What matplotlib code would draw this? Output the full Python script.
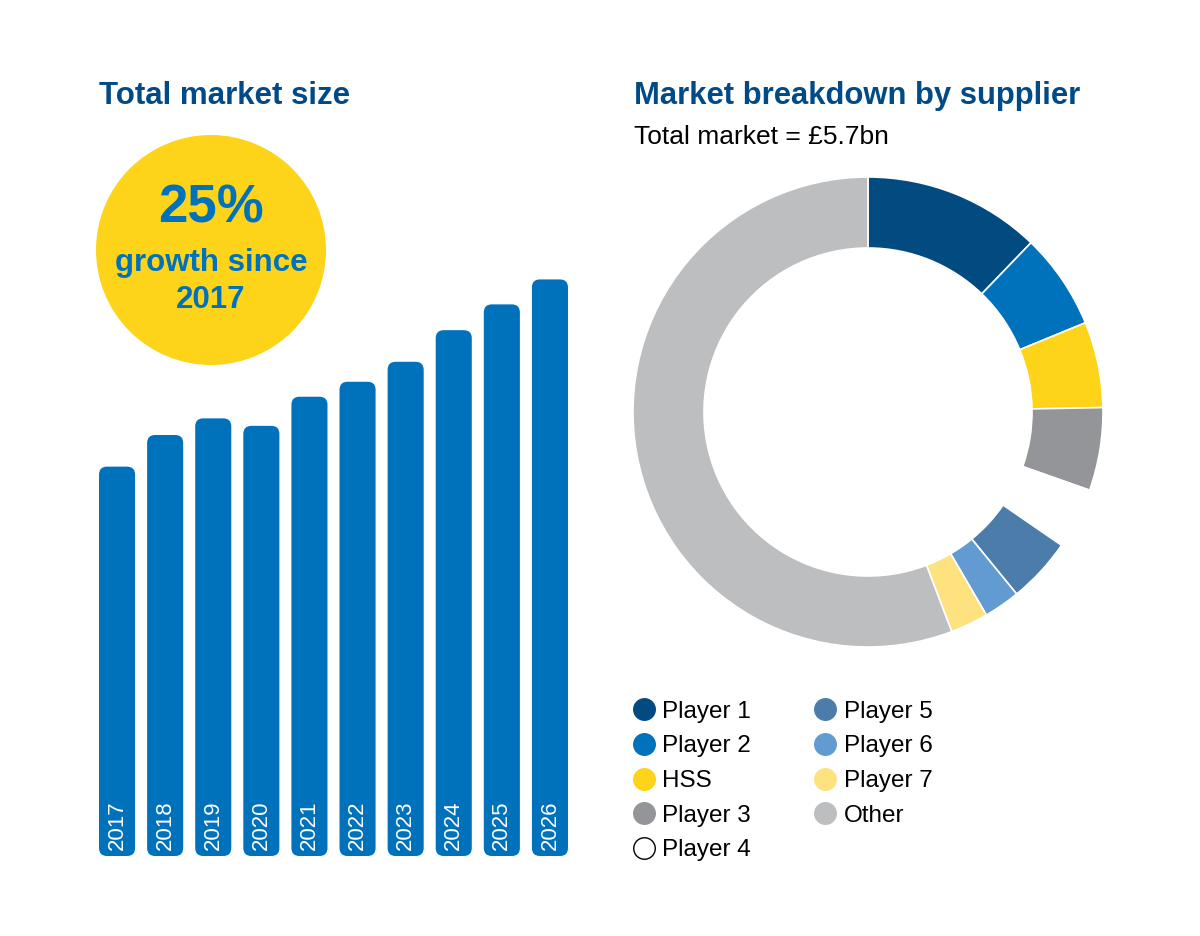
import matplotlib
matplotlib.use("Agg")
import matplotlib.pyplot as plt
from matplotlib.patches import FancyBboxPatch, Circle
from matplotlib.lines import Line2D

plt.rcParams['font.family'] = ['Liberation Sans', 'DejaVu Sans']

# ---- data ----
years = ["2017", "2018", "2019", "2020", "2021", "2022", "2023", "2024", "2025", "2026"]
market_size = [4.68, 5.06, 5.26, 5.17, 5.52, 5.70, 5.94, 6.32, 6.63, 6.93]

suppliers = ["Player 1", "Player 2", "HSS", "Player 3", "Player 4",
             "Player 5", "Player 6", "Player 7", "Other"]
shares = [12.2, 6.6, 5.9, 5.7, 4.2, 4.5, 2.5, 2.6, 55.8]
supplier_colors = ["#024B80", "#0072BC", "#FDD41A", "#939598", "#FFFFFF",
                   "#4C7CAA", "#619BD2", "#FDE27F", "#BDBEC0"]

title_left = "Total market size"
title_right = "Market breakdown by supplier"
subtitle_right = "Total market = £5.7bn"
badge_big = "25%"
badge_small = "growth since\n2017"

BAR_COLOR = "#0072BC"
TITLE_COLOR = "#004B87"

W, H = 1200, 936
fig = plt.figure(figsize=(W / 100, H / 100), dpi=100)
fig.patch.set_facecolor("white")


def px_axes(left, top, width, height):
    return fig.add_axes([left / W, (H - top - height) / H, width / W, height / H])


# ---- bar chart ----
ymax = 7.0
ax_h = 582.4
ax_w = 481.0
axb = px_axes(93, 856 - ax_h, ax_w, ax_h)
axb.set_xlim(-0.5, len(years) - 0.5)
axb.set_ylim(0, ymax)
axb.axis("off")
bw = 0.75
x_per_px = len(years) / ax_w
y_per_px = ymax / ax_h
aspect = y_per_px / x_per_px
r = 8 * x_per_px
for i, (yr, v) in enumerate(zip(years, market_size)):
    p = FancyBboxPatch((i - bw / 2, 0), bw, v,
                       boxstyle=f"round,pad=0,rounding_size={r}",
                       mutation_aspect=aspect, facecolor=BAR_COLOR,
                       edgecolor="none")
    axb.add_patch(p)
    axb.text(i, 6 * y_per_px, yr, rotation=90, ha="center", va="bottom",
             color="white", fontsize=16)

# ---- badge ----
axc = px_axes(96, 135, 230, 230)
axc.set_xlim(-1, 1)
axc.set_ylim(-1, 1)
axc.set_aspect("equal")
axc.axis("off")
axc.add_patch(Circle((0, 0), 1, facecolor="#FDD41A", edgecolor="none"))
axc.text(0, 0.36, badge_big, ha="center", va="center", fontsize=38,
         fontweight="bold", color=BAR_COLOR)
axc.text(0, -0.275, badge_small, ha="center", va="center", fontsize=22.5,
         fontweight="bold", color=BAR_COLOR, linespacing=1.31)

# ---- titles ----
fig.text(99 / W, 1 - 96 / H, title_left, ha="left", va="center",
         fontsize=22.5, fontweight="bold", color=TITLE_COLOR)
fig.text(634 / W, 1 - 96 / H, title_right, ha="left", va="center",
         fontsize=22.3, fontweight="bold", color=TITLE_COLOR)
fig.text(634 / W, 1 - 137 / H, subtitle_right, ha="left", va="center",
         fontsize=19, color="black")

# ---- donut ----
R = 235
axd = px_axes(868 - R, 412 - R, 2 * R, 2 * R)
wedges, _ = axd.pie(shares, colors=supplier_colors, startangle=90,
                    counterclock=False,
                    wedgeprops=dict(width=1 - 164 / 235, edgecolor="white",
                                    linewidth=1.2))
axd.set_xlim(-1, 1)
axd.set_ylim(-1, 1)
axd.set_aspect("equal")
axd.axis("off")

# ---- legend ----
handles = []
for name, c in zip(suppliers, supplier_colors):
    ec = "black" if c.upper() == "#FFFFFF" else c
    handles.append(Line2D([], [], linestyle="none", marker="o", markersize=15.5,
                          markerfacecolor=c, markeredgecolor=ec,
                          markeredgewidth=1.0, label=name))
fig.legend(handles=handles, loc="upper left",
           bbox_to_anchor=(622 / W, 1 - 691 / H), ncol=2, frameon=False,
           fontsize=17.5, handlelength=1.0, handletextpad=0.25,
           columnspacing=2.57, labelspacing=0.52, borderaxespad=0)

fig.savefig("out.png", dpi=100, facecolor="white")
